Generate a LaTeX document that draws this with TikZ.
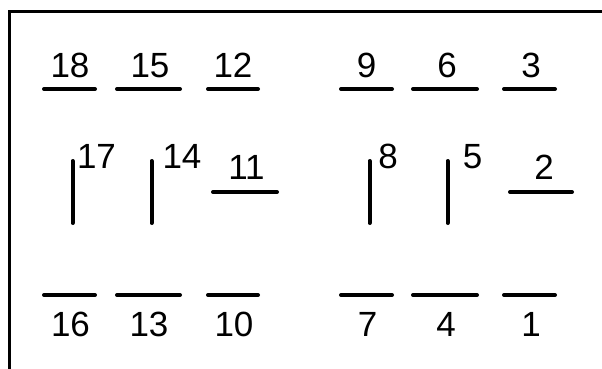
\documentclass[tikz,border=0pt]{standalone}
\usepackage{fontspec}
\setmainfont{Liberation Sans}
\begin{document}
\begin{tikzpicture}[x=1pt,y=-1pt,
  seg/.style={line width=4pt,line cap=round},
  frame/.style={line width=3pt,line join=miter},
  lbl/.style={anchor=base,inner sep=0pt,font=\fontsize{35}{42}\selectfont}]
\useasboundingbox (0,0) rectangle (602,369);
% frame (open at bottom and right)
\draw[frame] (9,372) -- (9,12) -- (605,12);
% top row
\foreach \a/\b/\t/\c in {44/95/18/70, 117/180/15/150, 208/258/12/233, 341/392/9/366.5, 413/477/6/447, 504/555/3/531}{
  \draw[seg] (\a,89) -- (\b,89);
  \node[lbl] (t\t) at (\c,77.5) {\t};
}
% bottom row
\foreach \a/\b/\t/\c in {44/95/16/70.5, 117/180/13/149, 208/258/10/234, 341/392/7/367.5, 413/477/4/446, 504/555/1/531}{
  \draw[seg] (\a,295) -- (\b,295);
  \node[lbl] (b\t) at (\c,336.5) {\t};
}
% middle verticals
\foreach \x/\t/\c in {72.5/17/96.5, 151.5/14/182, 369.5/8/388, 447.5/5/472.5}{
  \draw[seg] (\x,161) -- (\x,223);
  \node[lbl] (m\t) at (\c,168) {\t};
}
% middle horizontals
\foreach \a/\b/\t/\c in {213/277/11/246.5, 510/572/2/544}{
  \draw[seg] (\a,192) -- (\b,192);
  \node[lbl] (h\t) at (\c,179) {\t};
}
\end{tikzpicture}
\end{document}
